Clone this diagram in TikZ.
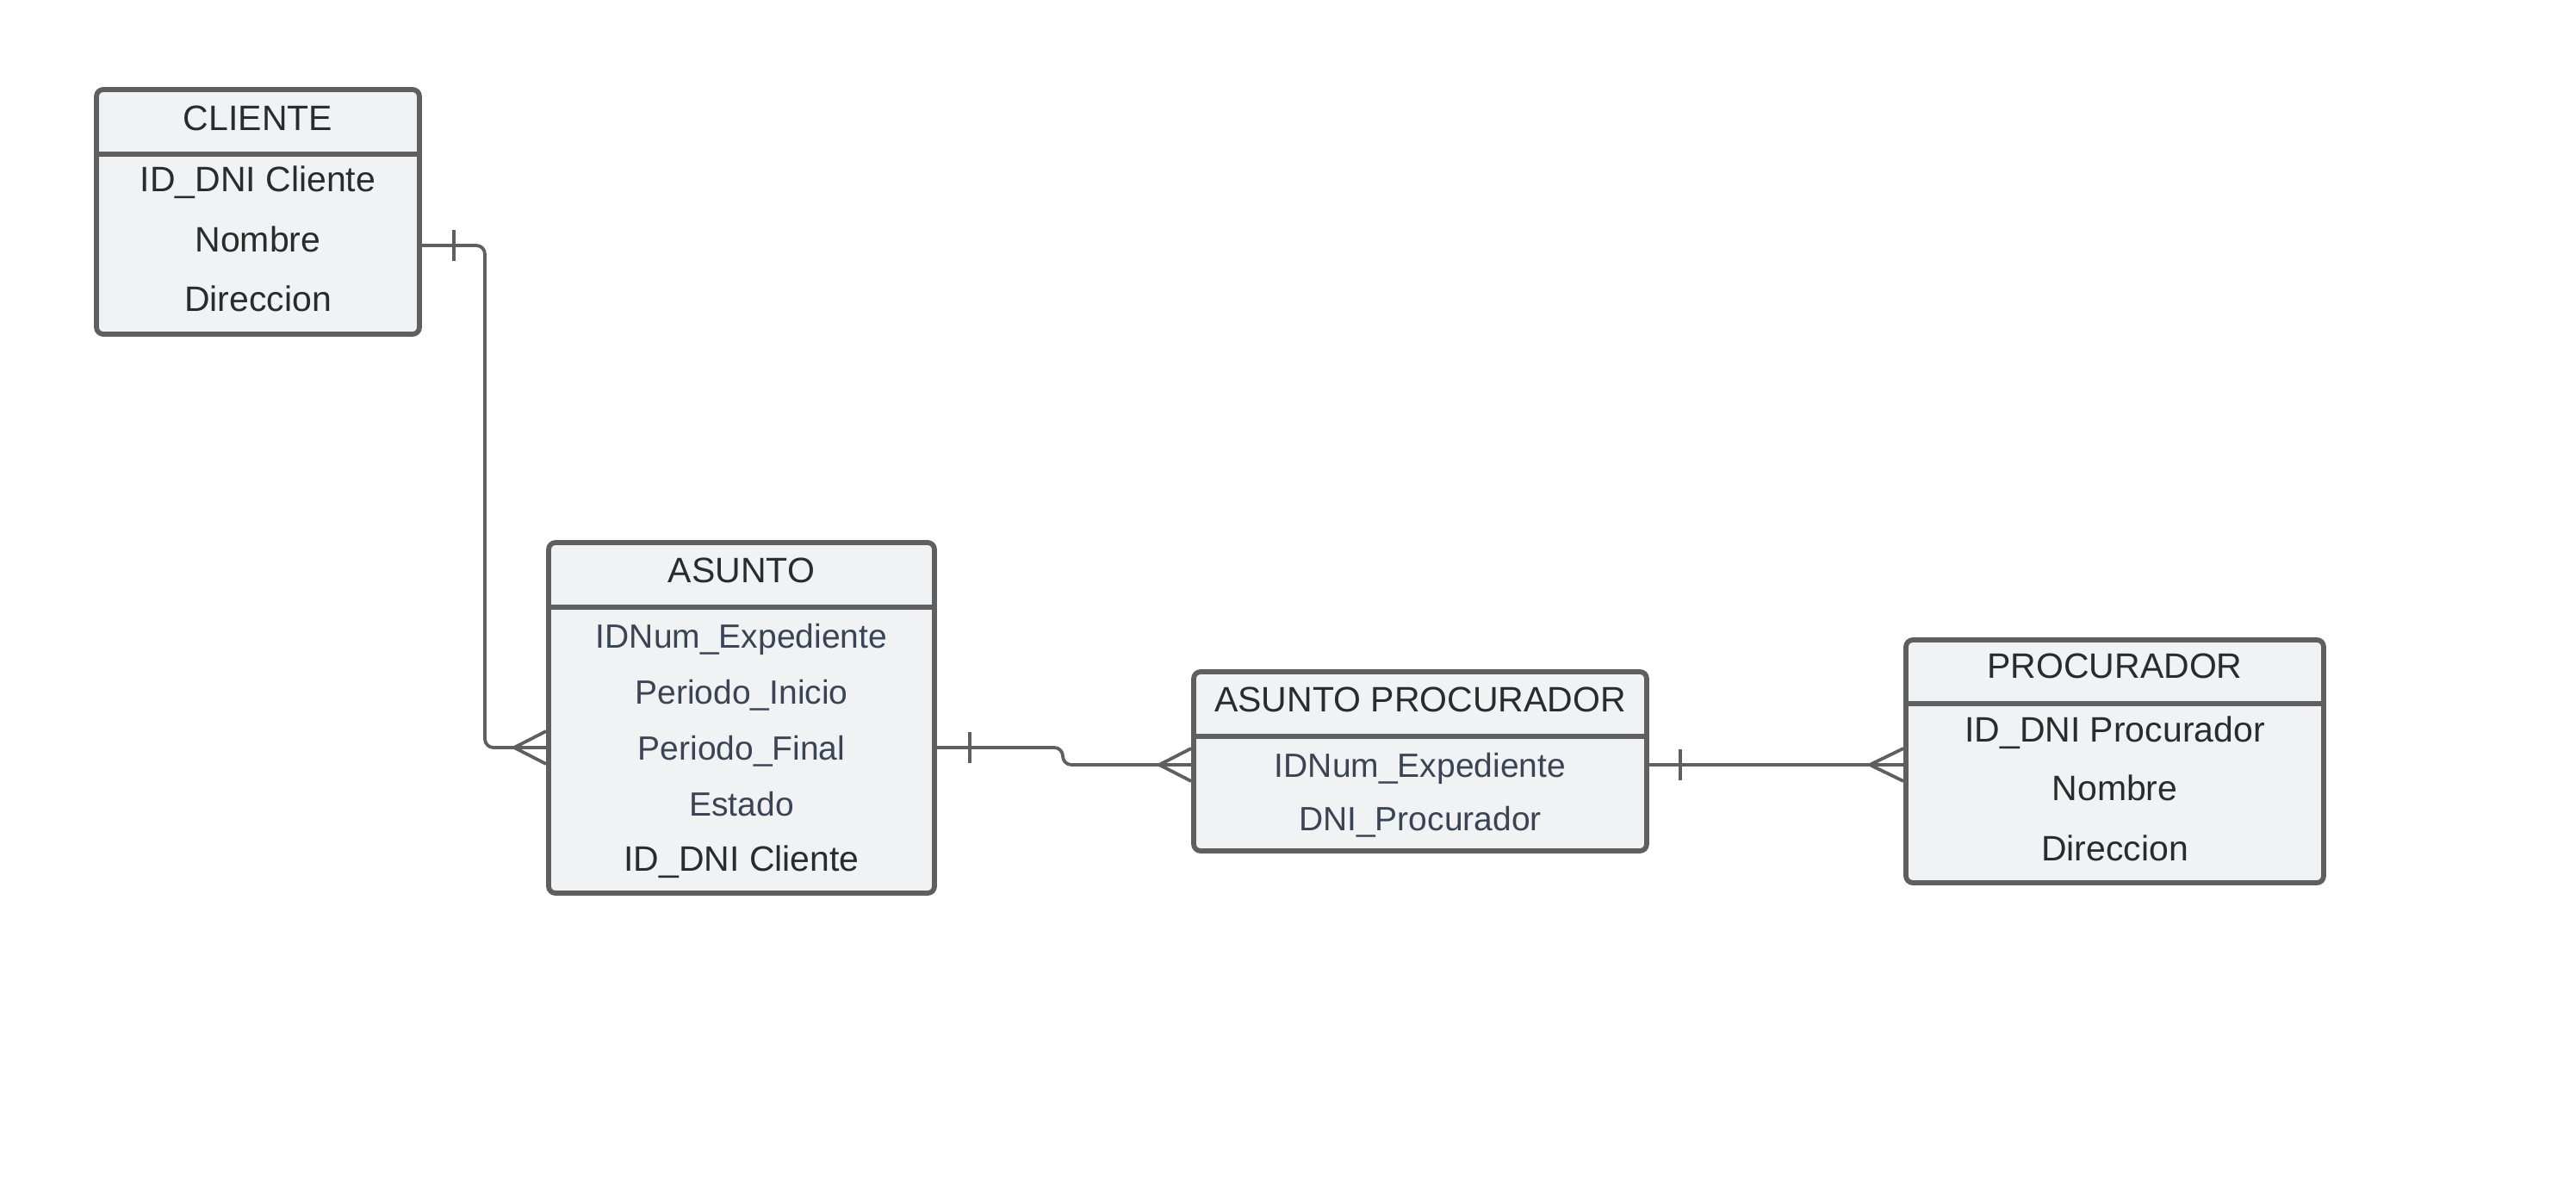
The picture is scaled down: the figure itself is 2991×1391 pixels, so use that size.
\documentclass[tikz,border=0pt]{standalone}
\usepackage{fontspec}
\setmainfont{Liberation Sans}
\usetikzlibrary{positioning}

\definecolor{erline}{HTML}{5F5F5F}
\definecolor{erfill}{HTML}{F1F2F4}
\definecolor{ertext}{HTML}{2B2B2B}
\definecolor{erslate}{HTML}{3A4454}

\begin{document}
\begin{tikzpicture}[
    x=0.5pt, y=-0.5pt,
    tbl/.style={draw=erline, fill=erfill, line width=2.9pt, rounded corners=4pt, inner sep=0pt},
    divider/.style={draw=erline, line width=2.9pt},
    head/.style={text=ertext, inner sep=0pt, text height=14.7pt, text depth=0pt, font=\fontsize{20.5}{24}\selectfont},
    attr/.style={head},
    attrb/.style={text=erslate, inner sep=0pt, text height=14pt, text depth=0pt, font=\fontsize{19.5}{23}\selectfont},
    link/.style={draw=erline, line width=1.9pt, rounded corners=5pt},
    crow/.style={draw=erline, line width=1.9pt, sharp corners}
]
\fill[white] (0,0) rectangle (2991,1391);
\useasboundingbox (0,0) rectangle (2991,1391);

% tables
\node (cliente) [tbl, minimum width=187.5pt, minimum height=142pt] at (299.5,246) {};
\node (asunto) [tbl, minimum width=224pt, minimum height=203.5pt] at (861,833.5) {};
\node (asuproc) [tbl, minimum width=263pt, minimum height=104pt] at (1649,884) {};
\node (procurador) [tbl, minimum width=242.5pt, minimum height=141pt] at (2455.5,884) {};

\draw [divider] (cliente.west |- 0,179) -- (cliente.east |- 0,179);
\draw [divider] (asunto.west |- 0,705) -- (asunto.east |- 0,705);
\draw [divider] (asuproc.west |- 0,855) -- (asuproc.east |- 0,855);
\draw [divider] (procurador.west |- 0,817) -- (procurador.east |- 0,817);

% CLIENTE
\node (cli-t) [head] at (299.5,137) {CLIENTE};
\node (cli-1) [attr] at (299.5,208) {ID\_DNI Cliente};
\node (cli-2) [attr] at (299.5,278) {Nombre};
\node (cli-3) [attr] at (299.5,347) {Direccion};

% ASUNTO
\node (asu-t) [head] at (861,662) {ASUNTO};
\node (asu-1) [attrb] at (861,738) {IDNum\_Expediente};
\node (asu-2) [attrb] at (861,803) {Periodo\_Inicio};
\node (asu-3) [attrb] at (861,868) {Periodo\_Final};
\node (asu-4) [attrb] at (861,933) {Estado};
\node (asu-5) [attr] at (861,997) {ID\_DNI Cliente};

% ASUNTO PROCURADOR
\node (ap-t) [head] at (1649,812) {ASUNTO PROCURADOR};
\node (ap-1) [attrb] at (1649,888) {IDNum\_Expediente};
\node (ap-2) [attrb] at (1649,950) {DNI\_Procurador};

% PROCURADOR
\node (pro-t) [head] at (2455.5,773) {PROCURADOR};
\node (pro-1) [attr] at (2455.5,847) {ID\_DNI Procurador};
\node (pro-2) [attr] at (2455.5,915) {Nombre};
\node (pro-3) [attr] at (2455.5,985) {Direccion};

% relations
\draw [link] (cliente.east |- 0,285) -- (563,285) -- (563,868) -- (asunto.west |- asu-3);
\draw [crow] (527,267) -- (527,303);
\draw [crow] (asunto.west |- 0,849) -- (597,868) -- (asunto.west |- 0,887);

\draw [link] (asunto.east |- asu-3) -- (1234,868) -- (1234,888) -- (asuproc.west |- ap-1);
\draw [crow] (1126,850) -- (1126,886);
\draw [crow] (asuproc.west |- 0,869) -- (1346,888) -- (asuproc.west |- 0,907);

\draw [link] (asuproc.east |- ap-1) -- (procurador.west |- ap-1);
\draw [crow] (1951,870) -- (1951,906);
\draw [crow] (procurador.west |- 0,869) -- (2171,888) -- (procurador.west |- 0,907);

\end{tikzpicture}
\end{document}
